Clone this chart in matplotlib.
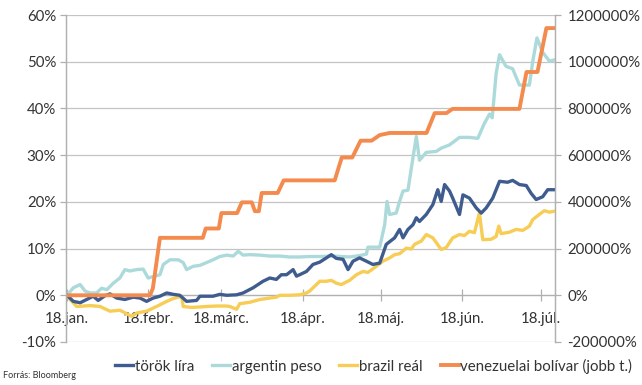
import datetime as dt
import matplotlib
matplotlib.use("Agg")
import matplotlib.pyplot as plt
import matplotlib.dates as mdates
from matplotlib.ticker import FuncFormatter

plt.rcParams['font.family'] = ['Lato', 'DejaVu Sans']

# napok 2018.01.18-tól
start = dt.date(2018, 1, 18)

lira_days = [0, 2.4, 5.0, 7.5, 10.0, 11.9, 14.5, 16.4, 19.0, 22.1, 25.3, 27.9, 30.4, 32.9, 35.5,
             38.1, 40.6, 43.1, 45.7, 49.5, 50.8, 55.8, 58.4, 61.0, 64.8, 67.3, 71.1, 74.9, 77.5,
             80.0, 81.9, 83.9, 86.4, 87.7, 88.9, 91.5, 94.0, 96.6, 99.1, 101.0, 102.9, 105.5,
             107.4, 109.3, 111.8, 114.4, 116.9, 119.5, 122.0, 125.2, 127.1, 128.4, 130.3, 132.2,
             133.5, 134.7, 137.3, 139.8, 141.7, 143.0, 144.3, 146.2, 147.4, 150.0, 151.3, 153.8,
             156.4, 158.3, 160.2, 162.7, 165.3, 168.4, 170.3, 172.9, 175.5, 177.4, 179.3, 181.8,
             183.7, 186.3]
lira = [0, -1.3, -1.6, -0.9, -0.2, -1.1, -0.1, 0.3, -0.6, -0.9, -0.4, -0.6, -1.3, -0.6, -0.2,
        0.5, 0.2, 0, -1.3, -1.1, -0.2, -0.2, 0.2, 0, 0.1, 0.5, 1.6, 3.0, 3.7,
        3.4, 4.4, 4.4, 5.5, 4.1, 4.4, 5.1, 6.6, 7.1, 8.0, 8.7, 7.9, 7.7,
        5.5, 7.3, 8.0, 7.3, 6.6, 6.9, 10.9, 12.3, 14.1, 12.3, 14.1, 15.1,
        16.6, 15.8, 17.3, 19.4, 22.6, 20.1, 23.7, 22.3, 20.8, 17.3, 21.5, 20.8,
        18.7, 17.6, 18.7, 20.8, 24.4, 24.2, 24.6, 23.7, 23.5, 21.8, 20.5, 21.1,
        22.6, 22.6]

peso_days = [0, 2.4, 5.0, 6.9, 8.8, 11.3, 13.2, 15.2, 17.7, 20.2, 22.1, 24.0, 26.6, 29.1, 31.0,
             32.9, 35.5, 36.8, 39.3, 42.5, 44.4, 45.7, 48.2, 50.8, 53.3, 55.8, 58.4, 61.0, 63.5,
             65.4, 67.3, 69.8, 73.7, 77.5, 81.3, 85.1, 88.9, 92.7, 96.6, 101.6, 108.0, 111.8,
             114.4, 115.0, 119.5, 121.4, 122.3, 123.3, 125.8, 127.1, 128.4, 130.3, 132.2, 133.5,
             134.7, 137.3, 141.1, 143.0, 146.2, 150.0, 153.8, 157.0, 159.5, 161.5, 162.5, 164.0,
             165.3, 167.8, 170.3, 172.9, 176.7, 178.0, 179.6, 181.8, 184.4, 186.3]
peso = [0, 1.6, 2.3, 0.9, 0.5, 0.5, 1.5, 1.2, 2.6, 3.7, 5.5, 5.2, 5.5, 5.6, 3.7,
        4.0, 4.4, 6.6, 7.6, 7.6, 7.0, 5.5, 6.2, 6.4, 7.0, 7.6, 8.3, 8.6, 8.4,
        9.4, 8.6, 8.7, 8.6, 8.4, 8.4, 8.2, 8.2, 8.3, 8.3, 8.4, 8.2, 8.5,
        8.8, 10.3, 10.3, 15.1, 20.1, 17.3, 17.6, 20.1, 22.3, 22.5, 29.4, 34.0,
        28.9, 30.6, 30.8, 31.5, 32.2, 33.8, 33.8, 33.6, 36.8, 38.8, 38.0, 47.5,
        51.5, 49.0, 48.5, 45.0, 45.0, 50.1, 55.1, 52.0, 50.1, 50.4]

real_days = [0, 1.0, 3.7, 8.8, 12.6, 16.4, 20.2, 24.7, 26.6, 30.4, 34.2, 38.1, 40.6, 43.8, 44.4,
             47.6, 50.8, 53.3, 57.1, 61.0, 62.2, 64.8, 66.0, 69.8, 73.7, 77.5, 80.0, 81.3, 85.1,
             88.9, 91.5, 92.7, 94.0, 96.6, 99.1, 101.0, 102.9, 104.8, 108.0, 110.6, 113.1, 115.0,
             118.2, 120.7, 123.3, 125.2, 127.1, 129.7, 131.6, 132.8, 135.4, 137.3, 139.8, 143.0,
             144.9, 147.4, 150.0, 151.9, 153.8, 155.7, 157.6, 158.9, 162.1, 164.0, 165.0, 165.9,
             169.1, 171.6, 174.2, 176.7, 178.0, 180.5, 182.4, 184.4, 186.3]
real = [0, -0.8, -2.4, -2.2, -2.4, -3.4, -3.2, -4.5, -3.8, -3.4, -2.4, -1.3, -0.7, -0.2, -2.4,
        -2.6, -2.5, -2.4, -2.3, -2.3, -2.4, -3.0, -1.8, -1.5, -0.9, -0.6, -0.4, 0, 0,
        0.1, 0.5, 0.9, 1.6, 3.0, 3.0, 3.2, 2.6, 2.3, 3.2, 4.4, 5.1, 4.9,
        6.2, 7.3, 8.0, 8.7, 8.9, 10.1, 9.9, 10.9, 11.6, 13.0, 12.3, 9.8,
        10.2, 12.3, 13.0, 12.8, 13.7, 13.4, 17.6, 11.9, 12.0, 12.6, 14.8, 13.2,
        13.5, 14.1, 13.9, 14.8, 16.2, 17.3, 18.1, 17.8, 18.0]

bolivar_days = [0, 31.7, 32.8, 35.5, 51.9, 53.0, 58.0, 59.0, 65.0, 66.8, 70.6, 71.8, 73.3, 74.4,
                80.5, 82.8, 102.3, 105.0, 109.0, 112.2, 116.4, 119.5, 123.3, 137.4, 140.5,
                145.0, 147.3, 172.9, 175.6, 179.8, 183.2, 186.3]
bolivar = [0, 0, 30000, 246000, 246000, 286000, 286000, 352000, 352000, 398000, 398000, 360000,
           360000, 438000, 438000, 492000, 492000, 590000, 590000, 662000, 662000, 686000,
           695000, 695000, 780000, 780000, 798000, 798000, 956000, 956000, 1144000, 1144000]

tick_dates = [dt.date(2018, m, 18) for m in range(1, 8)]
tick_labels = ['18.jan.', '18.febr.', '18.márc.', '18.ápr.', '18.máj.', '18.jún.', '18.júl.']

left_ticks = list(range(-10, 61, 10))
right_ticks = list(range(-200000, 1200001, 200000))

c_lira = '#3f5c8e'
c_peso = '#acdada'
c_real = '#f7cd55'
c_bol = '#f48b4e'
txt = '#333333'
grey = '#b0b0b0'
fs = 10.8

base = mdates.date2num(start)


def to_x(days):
    return [base + d for d in days]


fig = plt.figure(figsize=(6.42, 3.85), dpi=100)
ax = fig.add_axes([0.1028, 0.1117, 0.7617, 0.8493])
ax2 = ax.twinx()

l1, = ax.plot(to_x(lira_days), lira, color=c_lira, lw=2.4, label='török líra', zorder=4)
l2, = ax.plot(to_x(peso_days), peso, color=c_peso, lw=2.4, label='argentin peso', zorder=3)
l3, = ax.plot(to_x(real_days), real, color=c_real, lw=2.4, label='brazil reál', zorder=3)
l4, = ax2.plot(to_x(bolivar_days), bolivar, color=c_bol, lw=2.8, label='venezuelai bolívar (jobb t.)')

ax.set_ylim(-10, 60)
ax2.set_ylim(-200000, 1200000)
ax.set_xlim(base - 0.4, base + 186.5)

ax.set_yticks(left_ticks)
ax.yaxis.set_major_formatter(FuncFormatter(lambda v, p: f'{v:.0f}%'))
ax2.set_yticks(right_ticks)
ax2.yaxis.set_major_formatter(FuncFormatter(lambda v, p: f'{v:.0f}%'))

ax.set_xticks([mdates.date2num(d) for d in tick_dates])
ax.set_xticklabels(tick_labels)

ax.grid(axis='y', color='#c4c4c4', lw=0.9)
ax.set_axisbelow(True)

for a in (ax, ax2):
    for s in a.spines.values():
        s.set_color(grey)
        s.set_linewidth(0.9)
    a.spines['top'].set_visible(False)
ax.spines['bottom'].set_position(('data', 0))
ax2.spines['bottom'].set_visible(False)

ax.tick_params(axis='x', direction='inout', length=8, width=0.9, color=grey,
               labelsize=fs, labelcolor=txt, pad=8)
ax.tick_params(axis='y', length=4, width=0.9, color=grey, labelsize=fs, labelcolor=txt, pad=3)
ax2.tick_params(axis='y', length=4, width=0.9, color=grey, labelsize=fs, labelcolor=txt, pad=5)

fig.legend(handles=[l1, l2, l3, l4], loc='center', bbox_to_anchor=(0.582, 0.049), ncol=4,
           frameon=False, handlelength=1.2, handletextpad=0.1, columnspacing=1.2,
           fontsize=fs, labelcolor=txt)

fig.text(0.004, 0.012, 'Forrás: Bloomberg', fontsize=6.5, color=txt, ha='left', va='bottom')

fig.savefig('out.png', dpi=100)
